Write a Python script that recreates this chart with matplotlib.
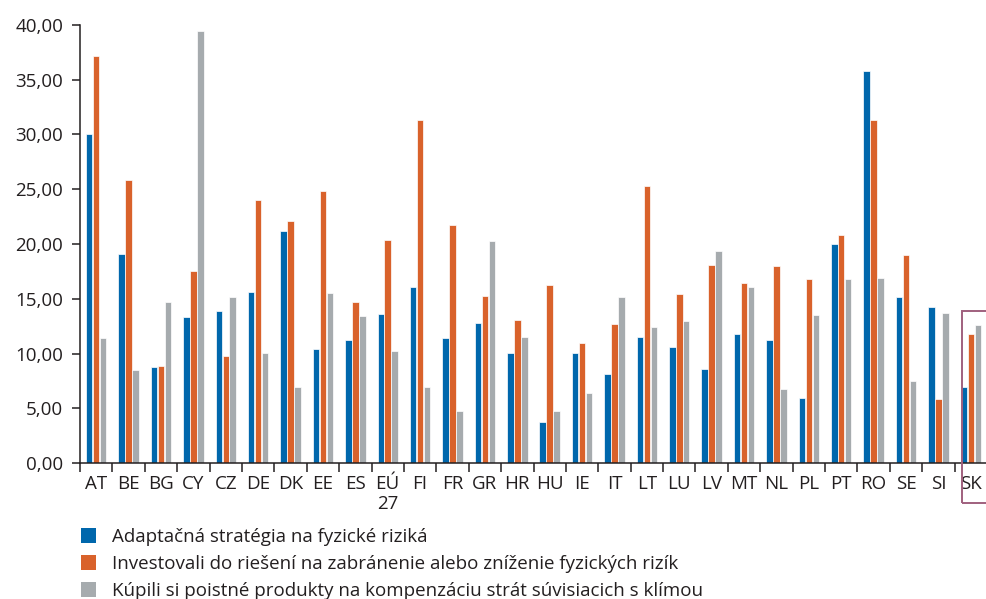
import matplotlib.pyplot as plt
import numpy as np
from matplotlib.patches import Patch, Rectangle

plt.rcParams['font.family'] = ['Open Sans', 'DejaVu Sans']

# ---- data ----
countries = ["AT", "BE", "BG", "CY", "CZ", "DE", "DK", "EE", "ES", "EÚ\n27",
             "FI", "FR", "GR", "HR", "HU", "IE", "IT", "LT", "LU", "LV",
             "MT", "NL", "PL", "PT", "RO", "SE", "SI", "SK"]
adapt = [30.0, 19.1, 8.8, 13.3, 13.9, 15.6, 21.2, 10.4, 11.2, 13.6,
         16.1, 11.4, 12.8, 10.1, 3.8, 10.1, 8.1, 11.5, 10.6, 8.6,
         11.8, 11.2, 6.0, 20.0, 35.8, 15.2, 14.3, 7.0]
invest = [37.1, 25.8, 8.9, 17.5, 9.8, 24.0, 22.1, 24.8, 14.7, 20.4,
          31.3, 21.7, 15.3, 13.1, 16.3, 11.0, 12.7, 25.3, 15.4, 18.1,
          16.4, 18.0, 16.8, 20.8, 31.3, 19.0, 5.9, 11.8]
insure = [11.4, 8.5, 14.7, 39.4, 15.2, 10.1, 7.0, 15.5, 13.4, 10.2,
          7.0, 4.8, 20.3, 11.5, 4.8, 6.4, 15.2, 12.4, 13.0, 19.4,
          16.1, 6.8, 13.5, 16.8, 16.9, 7.5, 13.7, 12.6]
labels = ["Adaptačná stratégia na fyzické riziká",
          "Investovali do riešení na zabránenie alebo zníženie fyzických rizík",
          "Kúpili si poistné produkty na kompenzáciu strát súvisiacich s klímou"]
yticks = [0, 5, 10, 15, 20, 25, 30, 35, 40]

COLORS = ["#0067ac", "#d9622b", "#a6abae"]
INK = "#231f20"
FS = 13.5

W, H = 987, 599
fig = plt.figure(figsize=(W / 100, H / 100), dpi=100)
ax = fig.add_axes([80 / W, (H - 463.3) / H, (W - 80) / W, (463.3 - 24.7) / H])

x = np.arange(len(countries))
for k, (vals, off) in enumerate(zip([adapt, invest, insure], [-0.215, 0.0, 0.215])):
    ax.bar(x + off, vals, width=0.2, color=COLORS[k],
           edgecolor="white", linewidth=0.5)

ax.set_xlim(-0.5, 27.24)
ax.set_ylim(0, 40)
ax.set_yticks(yticks)
ax.set_yticklabels([f"{v:.2f}".replace(".", ",") for v in yticks])
ax.set_xticks(x)
ax.set_xticklabels(countries, linespacing=1.15)
ax.set_xticks(np.arange(-0.5, len(countries), 1.0), minor=True)

for s in ["top", "right"]:
    ax.spines[s].set_visible(False)
for s in ["left", "bottom"]:
    ax.spines[s].set_color(INK)
    ax.spines[s].set_linewidth(1.1)

ax.tick_params(axis="y", length=6, width=1.1, color=INK, labelsize=FS,
               labelcolor=INK, pad=6)
ax.tick_params(axis="x", which="major", length=0, labelsize=FS,
               labelcolor=INK, pad=8.5)
ax.tick_params(axis="x", which="minor", length=6.5, width=1.1, color=INK)

# highlight box around SK
fig.add_artist(Rectangle((962 / W, (H - 502.7) / H), 60 / W, 192 / H,
                         transform=fig.transFigure, fill=False,
                         edgecolor="#a0607e", linewidth=1.4))

handles = [Patch(facecolor=c, edgecolor="none") for c in COLORS]
fig.legend(handles, labels, loc="upper left",
           bbox_to_anchor=(81 / W, (H - 528) / H), frameon=False,
           fontsize=FS, handlelength=0.82, handleheight=0.82,
           handletextpad=0.85, labelspacing=0.48, borderpad=0,
           borderaxespad=0, labelcolor=INK)

fig.savefig("out.png", dpi=100)
